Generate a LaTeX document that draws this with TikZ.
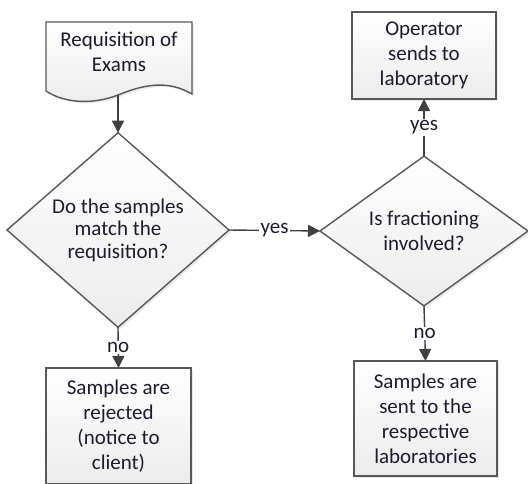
\documentclass[tikz,border=0pt]{standalone}
\usepackage{fontspec}
\setmainfont{Carlito}
\usepackage{xcolor}
\usepackage{tikz}
\usetikzlibrary{arrows.meta, shapes.geometric, shadows}
\definecolor{linegray}{RGB}{88,88,88}
\definecolor{arrowgray}{RGB}{64,64,64}
\definecolor{boxfill}{RGB}{236,236,236}
\definecolor{textnavy}{RGB}{28,28,48}

\begin{document}
\begin{tikzpicture}[x=1pt, y=-1pt, >={Triangle[length=12pt, width=12pt]},
  font=\fontsize{21}{25}\selectfont,
  shapefill/.style={draw=linegray, line width=1.4pt, top color=white, bottom color=boxfill,
    drop shadow={shadow xshift=2pt, shadow yshift=-2pt, opacity=0.18}},
  box/.style={shapefill, rectangle, align=center, text=textnavy, inner sep=0pt, outer sep=0pt},
  decision/.style={shapefill, diamond, align=center, text=textnavy, inner sep=0pt, outer sep=0pt},
  conn/.style={draw=arrowgray, fill=arrowgray, line width=1.4pt},
  lbl/.style={fill=white, inner sep=1.5pt, text=textnavy}]
  \useasboundingbox (0,0) rectangle (528,483);

  % document shape
  \draw[shapefill] (46,22) -- (192,22) -- (192,94)
    .. controls (168,80) and (145,84) .. (118,95)
    .. controls (92,105) and (64,103) .. (46,91) -- cycle;
  \node[text=textnavy, align=center] (req) at (119,52) {Requisition of\\Exams};
  \coordinate (reqout) at (118,95);

  \node[decision, minimum width=222pt, minimum height=166pt,
    font=\fontsize{21}{22.5}\selectfont] (d1) at (118,230)
    {Do the samples\\match the\\requisition?};
  \node[decision, minimum width=208pt, minimum height=131pt] (d2) at (424,231)
    {Is fractioning\\involved?};
  \node[box, minimum width=144pt, minimum height=87pt] (op) at (424,55.5)
    {Operator\\sends to\\laboratory};
  \node[box, minimum width=145pt, minimum height=116pt] (rej) at (118.5,426)
    {Samples are\\rejected\\(notice to\\client)};
  \node[box, minimum width=143pt, minimum height=115pt] (sent) at (425.5,418.5)
    {Samples are\\sent to the\\respective\\laboratories};

  \draw[conn, ->] (reqout) -- (d1.north);
  \draw[conn, ->] (d1.east) -- node[lbl]{yes} (d2.west);
  \draw[conn, ->] (d2.north) -- node[lbl]{yes} (op.south);
  \draw[conn, ->] (d1.south) -- node[lbl]{no} (rej.north);
  \draw[conn, ->] (d2.south) -- node[lbl]{no} (sent.north);
\end{tikzpicture}
\end{document}
